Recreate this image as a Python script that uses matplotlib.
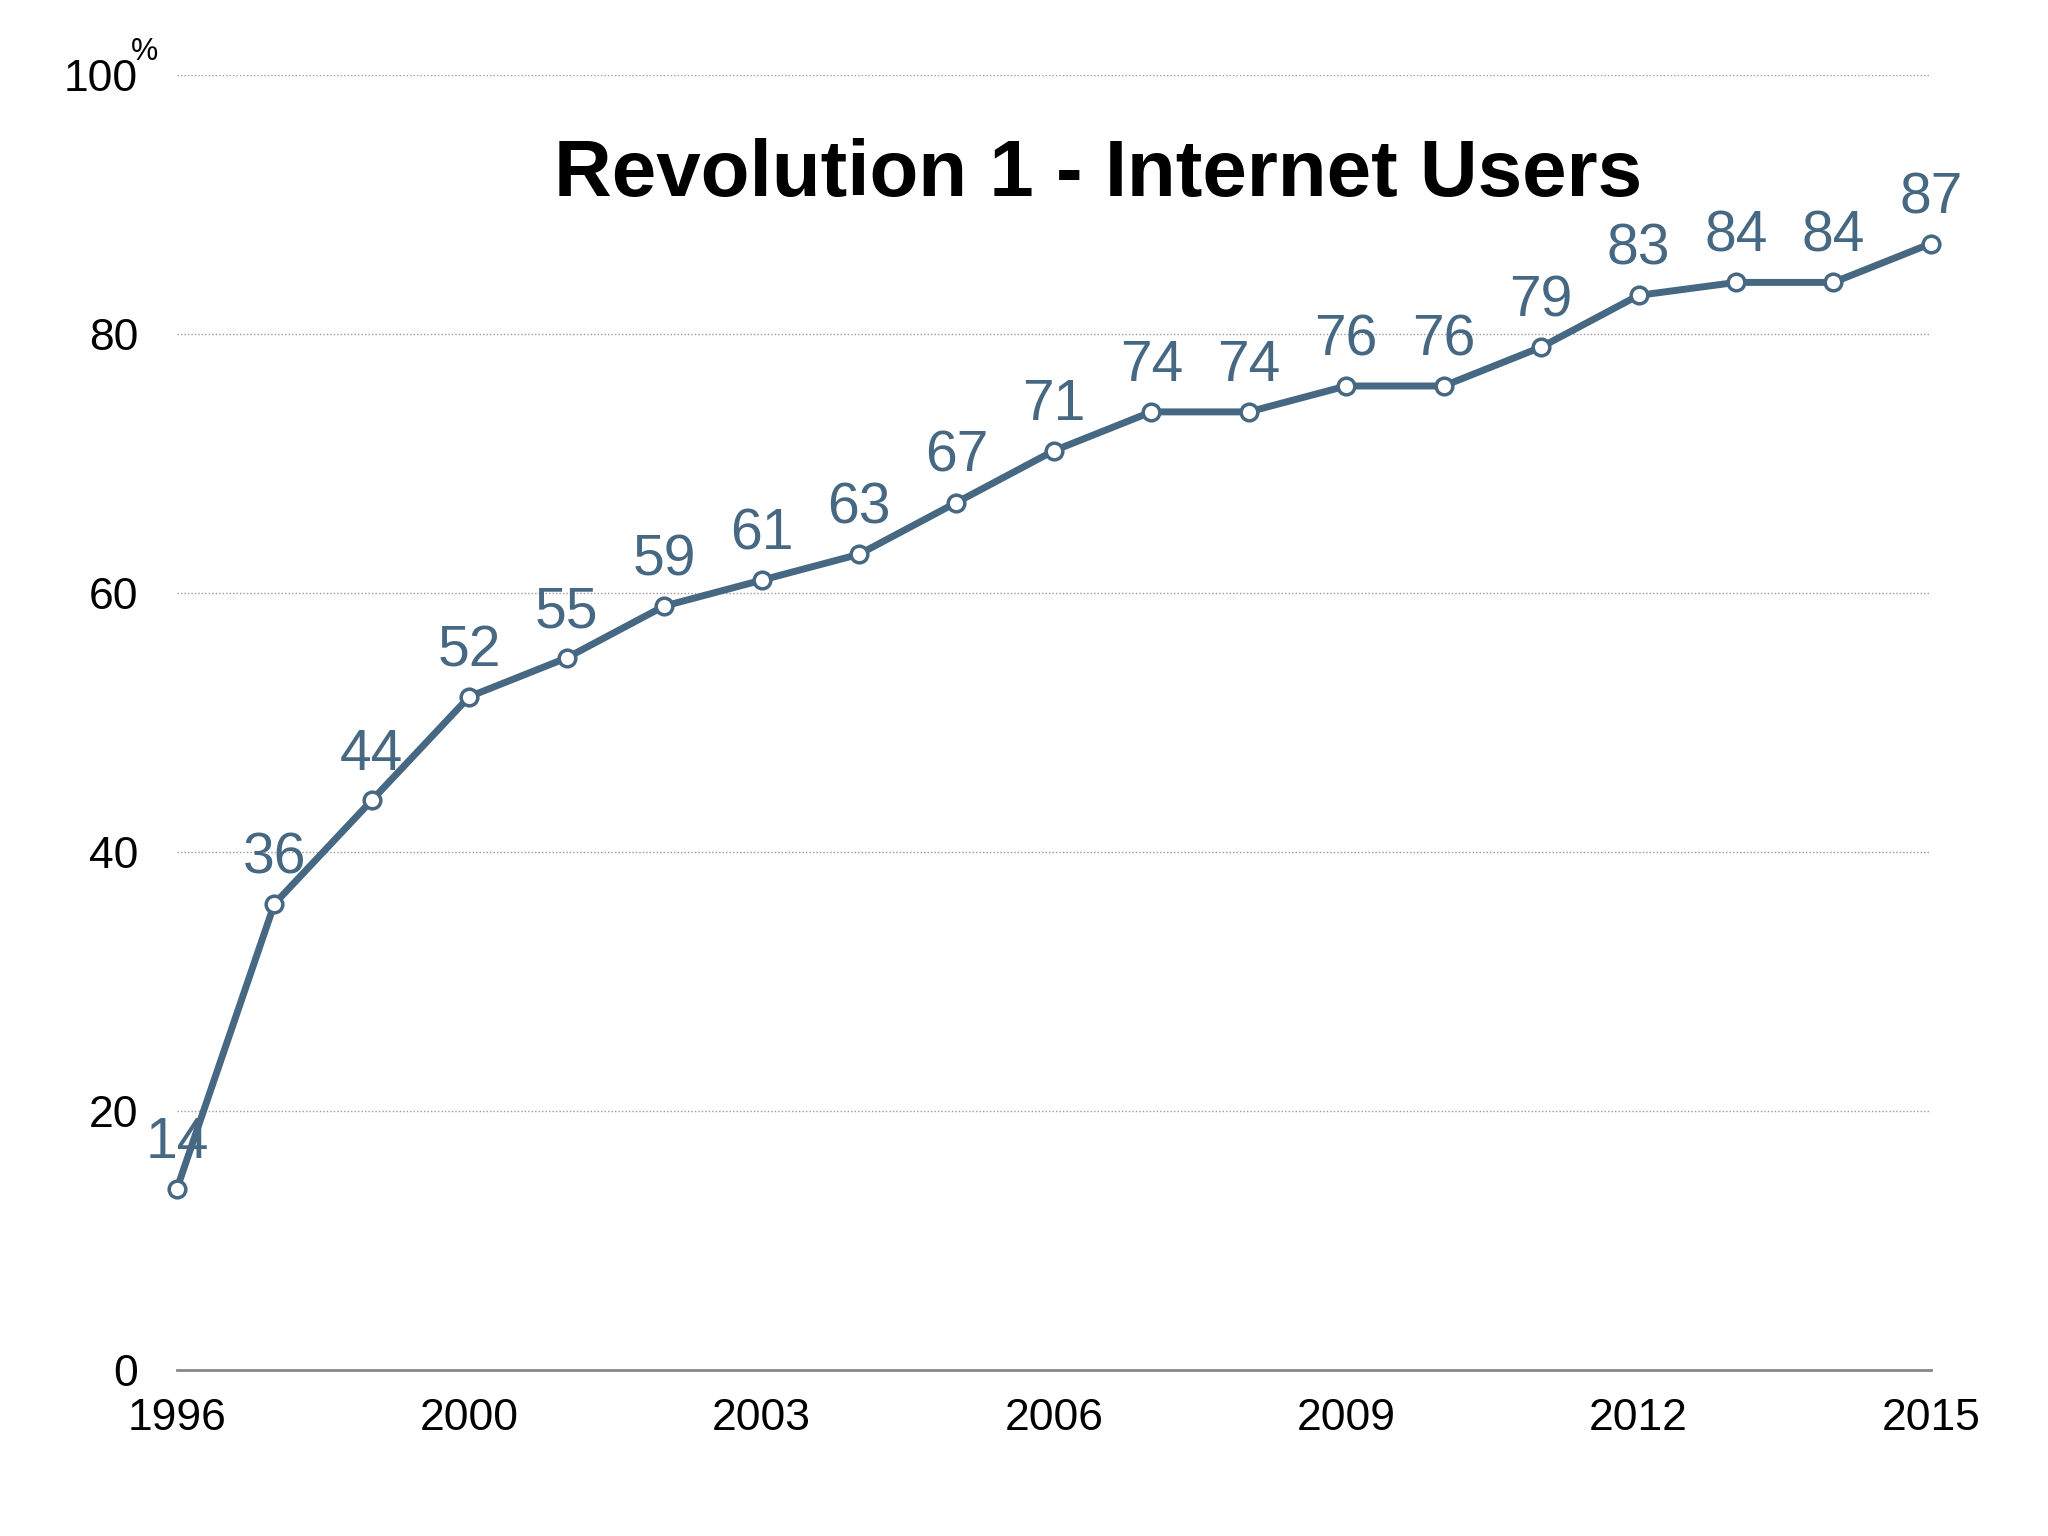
import matplotlib
matplotlib.use('Agg')
import matplotlib.pyplot as plt
import numpy as np

# ------------------ Data ------------------
users = [14, 36, 44, 52, 55, 59, 61, 63, 67, 71, 74, 74, 76, 76, 79, 83, 84, 84, 87]
tick_idx = [0, 3, 6, 9, 12, 15, 18]
tick_labels = ['1996', '2000', '2003', '2006', '2009', '2012', '2015']
y_ticks = [0, 20, 40, 60, 80, 100]

blue = '#476882'

plt.rcParams['font.family'] = ['Liberation Sans', 'DejaVu Sans']

fig = plt.figure(figsize=(20.48, 15.36), dpi=100)
ax = fig.add_axes([0.0864, 0.1081, 0.9428 - 0.0864, 0.951 - 0.1081])

xs = np.arange(len(users))
ax.plot(xs, users, color=blue, lw=5, marker='o', ms=12, mfc='white',
        mec=blue, mew=2.5, clip_on=False, zorder=3)

for xi, v in zip(xs, users):
    ax.annotate(str(v), (xi, v), xytext=(0, 22), textcoords='offset points',
                ha='center', va='baseline', fontsize=41, color=blue, zorder=4)

ax.set_xlim(0, len(users) - 1)
ax.set_ylim(0, 100)
ax.set_xticks(tick_idx)
ax.set_xticklabels(tick_labels)
ax.set_yticks(y_ticks)
ax.tick_params(axis='both', length=0, labelsize=32, colors='black')
ax.tick_params(axis='y', pad=28)
ax.tick_params(axis='x', pad=20)

ax.grid(axis='y', linestyle=(0, (1, 1.5)), color='#999999', lw=1.0)
ax.set_axisbelow(True)
for s in ['top', 'right', 'left']:
    ax.spines[s].set_visible(False)
ax.spines['bottom'].set_color('#888888')
ax.spines['bottom'].set_linewidth(2)
ax.spines['bottom'].set_zorder(1)

# "%" superscript beside 100
fig.text(0.0705, 0.966, '%', fontsize=22, ha='center', va='center')

fig.text(0.536, 0.886, 'Revolution 1 - Internet Users', fontsize=57.5,
         fontweight='bold', ha='center', va='center')

fig.savefig('out.png', dpi=100, facecolor='white')
